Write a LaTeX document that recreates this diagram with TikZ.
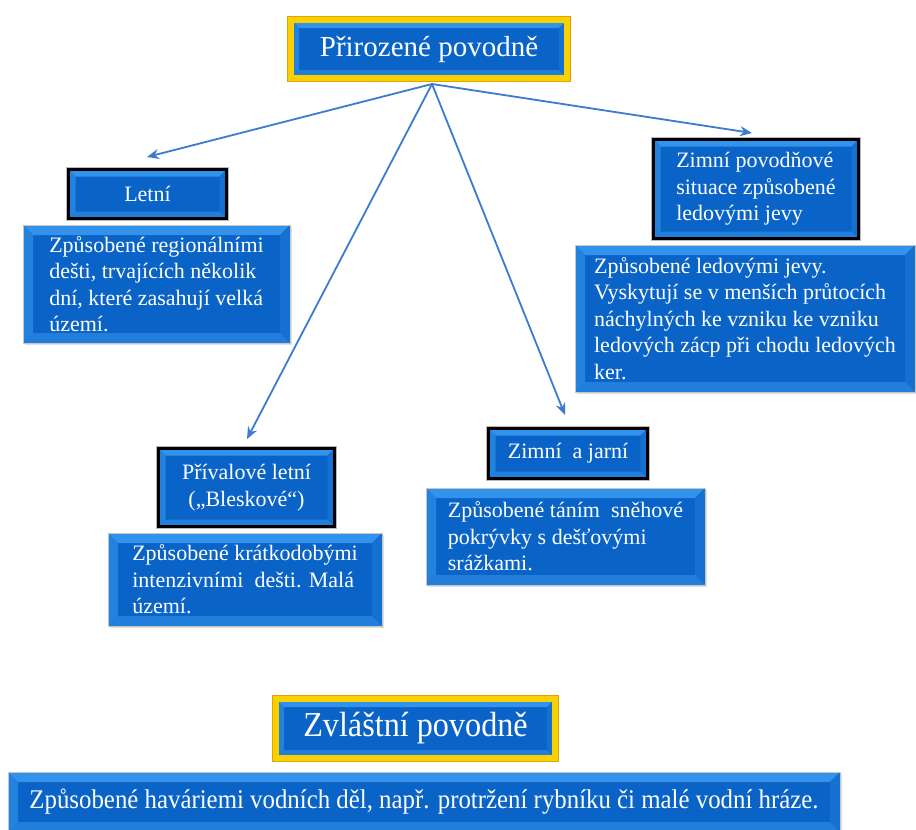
\documentclass[tikz,border=0pt]{standalone}
\usepackage{fontspec}
\usepackage{graphicx}
\setmainfont{Liberation Serif}
\usetikzlibrary{arrows.meta,shadows}
\definecolor{boxmid}{HTML}{0A64C8}
\definecolor{bevT}{HTML}{3393EC}
\definecolor{bevL}{HTML}{2382DE}
\definecolor{bevR}{HTML}{1670D2}
\definecolor{bevB}{HTML}{217EDA}
\definecolor{goldmain}{HTML}{F9D000}
\definecolor{goldedge}{HTML}{E0A400}
\definecolor{arrowblue}{HTML}{3C7BD0}
\tikzset{
  bevel/.style={path picture={
    \path (path picture bounding box.north west) coordinate (pNW)
          (path picture bounding box.north east) coordinate (pNE)
          (path picture bounding box.south east) coordinate (pSE)
          (path picture bounding box.south west) coordinate (pSW);
    \fill[bevT] (pNW) -- (pNE) -- ([xshift=-#1,yshift=-#1]pNE) -- ([xshift=#1,yshift=-#1]pNW) -- cycle;
    \fill[bevL] (pNW) -- ([xshift=#1,yshift=-#1]pNW) -- ([xshift=#1,yshift=#1]pSW) -- (pSW) -- cycle;
    \fill[bevR] (pNE) -- ([xshift=-#1,yshift=-#1]pNE) -- ([xshift=-#1,yshift=#1]pSE) -- (pSE) -- cycle;
    \fill[bevB] (pSW) -- ([xshift=#1,yshift=#1]pSW) -- ([xshift=-#1,yshift=#1]pSE) -- (pSE) -- cycle;
  }},
  basebox/.style={rectangle, inner sep=0pt, text=white, fill=boxmid,
    font=\fontsize{22}{26.5}\selectfont},
  headbox/.style={basebox, bevel=7pt, draw=black, line width=2.6pt,
    preaction={draw=gray!55, line width=5pt}},
  mainbox/.style={basebox, bevel=8pt, draw=goldmain, line width=6pt,
    preaction={draw=goldedge, line width=8pt}},
  descbox/.style={basebox, bevel=10pt, draw=gray!45, line width=1pt, align=left,
    drop shadow={shadow xshift=2pt, shadow yshift=-2pt, opacity=0.25}},
  arr/.style={draw=arrowblue, line width=1.8pt, -{Stealth[length=12pt,width=10pt]}}
}
\begin{document}
\begin{tikzpicture}[x=1pt,y=-1pt]
\fill[white] (0,0) rectangle (916,830);
\useasboundingbox (0,0) rectangle (916,830);

% main header
\node[mainbox, minimum width=276, minimum height=58,
  font=\fontsize{29}{34}\selectfont] (title) at (429,49) {Přirozené povodně};

% sub headers
\node[headbox, minimum width=158, minimum height=49] (letni) at (147.5,194) {Letní};
\node[headbox, minimum width=205, minimum height=99, align=left] (zimpov) at (756,189)
  {Zimní povodňové\\situace způsobené\\ledovými jevy};
\node[headbox, minimum width=176, minimum height=78, align=center] (priv) at (246.5,487.5)
  {Přívalové letní\\(„Bleskové“)};
\node[headbox, minimum width=159, minimum height=50] (zj) at (568,453.5) {Zimní \ a jarní};

% descriptions
\node[descbox, minimum width=267, minimum height=118] (letniD) at (156.5,284)
  {Způsobené regionálními\\dešti, trvajících několik\\dní, které zasahují velká\\území.};
\node[descbox, minimum width=340, minimum height=147] (zimpovD) at (745,318.5)
  {Způsobené ledovými jevy.\\Vyskytují se v menších průtocích\\náchylných ke vzniku ke vzniku\\ledových zácp při chodu ledových\\ker.};
\node[descbox, minimum width=274, minimum height=93] (privD) at (245,579.5)
  {Způsobené krátkodobými\\intenzivními \ dešti. Malá\\území.};
\node[descbox, minimum width=279, minimum height=97] (zjD) at (565.5,536.5)
  {Způsobené táním \ sněhové\\pokrývky s dešťovými\\srážkami.};

% special floods
\node[mainbox, minimum width=279, minimum height=59] (zvl) at (415.5,728.5)
  {\fontsize{35}{38}\selectfont\scalebox{0.92}[1]{Zvláštní povodně}};
\node[descbox, align=center, minimum width=832, minimum height=60] (zvlD) at (424,802)
  {\fontsize{27}{30}\selectfont\scalebox{0.92}[1]{Způsobené haváriemi vodních děl, např. protržení rybníku či malé vodní hráze.}};

% arrows
\coordinate (src) at (432,84);
\coordinate (eL) at (147,157);
\coordinate (eZP) at (752,133);
\coordinate (eZJ) at (565,415);
\coordinate (eP) at (247,439);
\draw[arr] (src) -- (eL);
\draw[arr] (src) -- (eZP);
\draw[arr] (src) -- (eZJ);
\draw[arr] (src) -- (eP);
\end{tikzpicture}
\end{document}
